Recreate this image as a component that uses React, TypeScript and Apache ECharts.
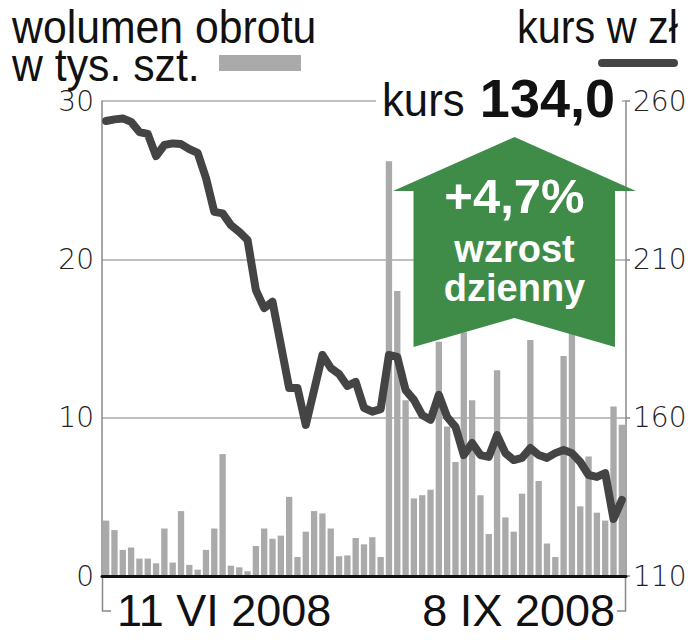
import React, { useEffect, useRef } from "react";
import * as echarts from "echarts";

const categories = [
  "11.06", "12.06", "13.06", "16.06", "17.06", "18.06", "19.06", "20.06", "23.06", "24.06",
  "25.06", "26.06", "27.06", "30.06", "01.07", "02.07", "03.07", "04.07", "07.07", "08.07",
  "09.07", "10.07", "11.07", "14.07", "15.07", "16.07", "17.07", "18.07", "21.07", "22.07",
  "23.07", "24.07", "25.07", "28.07", "29.07", "30.07", "31.07", "01.08", "04.08", "05.08",
  "06.08", "07.08", "08.08", "11.08", "12.08", "13.08", "14.08", "18.08", "19.08", "20.08",
  "21.08", "22.08", "25.08", "26.08", "27.08", "28.08", "29.08", "01.09", "02.09", "03.09",
  "04.09", "05.09", "08.09",
];

const volume = [
  3.5, 2.9, 1.65, 1.8, 1.1, 1.1, 0.8, 3.0, 0.85, 4.1,
  0.7, 0.4, 1.65, 3.0, 7.7, 0.65, 0.55, 0.3, 1.9, 3.0,
  2.35, 2.55, 5.0, 1.2, 2.8, 4.1, 3.95, 3.0, 1.25, 1.3,
  2.4, 2.0, 2.45, 1.2, 26.2, 18.0, 11.1, 4.9, 5.1, 5.45,
  14.8, 9.45, 7.2, 15.4, 11.1, 5.1, 2.65, 13.0, 3.7, 2.8,
  5.2, 14.9, 6.0, 2.05, 1.2, 13.9, 16.5, 4.4, 7.55, 4.0,
  3.5, 10.7, 9.55,
];

const price = [
  253.7, 254.2, 254.5, 253.4, 250.2, 249.6, 242.6, 246.1, 246.6, 246.4,
  244.8, 243.6, 235.7, 225.0, 224.5, 220.8, 218.7, 216.1, 200.3, 194.6,
  196.6, 183.0, 169.4, 169.4, 157.7, 168.7, 179.8, 175.7, 173.8, 170.0,
  171.3, 163.1, 161.9, 162.7, 179.8, 179.2, 168.7, 165.6, 160.8, 159.3,
  167.2, 160.2, 157.1, 148.2, 152.0, 148.2, 147.6, 154.5, 148.8, 146.6,
  147.3, 150.4, 148.2, 147.3, 148.8, 149.8, 148.8, 146.0, 141.9, 141.3,
  142.5, 128.0, 134.0,
];

const volumeAxis = { min: 0, max: 30, interval: 10 };
const priceAxis = { min: 110, max: 260, interval: 50 };

const titleLeft1 = "wolumen obrotu";
const titleLeft2 = "w tys. szt.";
const titleRight = "kurs w zł";
const lastLabel = "kurs";
const lastValue = "134,0";
const changeText = "+4,7%";
const changeWord1 = "wzrost";
const changeWord2 = "dzienny";
const startDate = "11 VI 2008";
const endDate = "8 IX 2008";

const SANS = "'Liberation Sans', Arial, sans-serif";
const TICK = "'DejaVu Sans', sans-serif";

export default function App() {
  const ref = useRef<HTMLDivElement>(null);

  useEffect(() => {
    if (!ref.current) return;
    const chart = echarts.init(ref.current, null, { renderer: "svg" });
    const green = "#3e8c48";
    chart.setOption({
      animation: false,
      backgroundColor: "#ffffff",
      grid: { left: 102, right: 64, top: 101, bottom: 64, containLabel: false },
      xAxis: {
        type: "category",
        data: categories,
        boundaryGap: true,
        axisLine: { show: true, lineStyle: { color: "#111", width: 3 } },
        axisTick: { show: false },
        axisLabel: { show: false },
        splitLine: { show: false },
        z: 5,
      },
      yAxis: [
        {
          type: "value",
          position: "left",
          min: volumeAxis.min,
          max: volumeAxis.max,
          interval: volumeAxis.interval,
          axisLine: { show: true, lineStyle: { color: "#888", width: 1.5 } },
          axisTick: { show: false },
          axisLabel: {
            margin: 8,
            fontFamily: TICK,
            fontSize: 28,
            fontWeight: 200,
            color: "#222",
          },
          splitLine: { show: true, lineStyle: { color: "#aaa", width: 1.5 } },
        },
        {
          type: "value",
          position: "right",
          min: priceAxis.min,
          max: priceAxis.max,
          interval: priceAxis.interval,
          axisLine: { show: true, lineStyle: { color: "#888", width: 1.5 } },
          axisTick: { show: true, length: 4, lineStyle: { color: "#888", width: 1.5 } },
          axisLabel: {
            margin: 7,
            fontFamily: TICK,
            fontSize: 28,
            fontWeight: 200,
            color: "#222",
          },
          splitLine: { show: false },
        },
      ],
      series: [
        {
          type: "bar",
          yAxisIndex: 0,
          data: volume,
          barCategoryGap: "24%",
          itemStyle: { color: "#aaaaaa" },
          z: 2,
        },
        {
          type: "line",
          yAxisIndex: 1,
          data: price,
          showSymbol: false,
          symbol: "none",
          lineStyle: { color: "#444444", width: 8, cap: "round", join: "round" },
          z: 3,
        },
      ],
      graphic: [
        {
          type: "text",
          x: 12,
          y: 27,
          z: 100,
          scaleX: 0.93,
          style: { text: titleLeft1, fontFamily: SANS, fontSize: 46, fill: "#111", textAlign: "left", textVerticalAlign: "middle" },
        },
        {
          type: "text",
          x: 12,
          y: 65,
          z: 100,
          scaleX: 0.93,
          style: { text: titleLeft2, fontFamily: SANS, fontSize: 46, fill: "#111", textAlign: "left", textVerticalAlign: "middle" },
        },
        {
          type: "text",
          x: 678,
          y: 27,
          z: 100,
          scaleX: 0.9,
          style: { text: titleRight, fontFamily: SANS, fontSize: 46, fill: "#111", textAlign: "right", textVerticalAlign: "middle" },
        },
        {
          type: "rect",
          z: 100,
          shape: { x: 219, y: 55, width: 82, height: 16 },
          style: { fill: "#aaaaaa" },
        },
        {
          type: "line",
          z: 100,
          shape: { x1: 602, y1: 63, x2: 674, y2: 63 },
          style: { stroke: "#444444", lineWidth: 8, lineCap: "round" },
        },
        {
          type: "rect",
          z: 100,
          shape: { x: 376, y: 94, width: 246, height: 14 },
          style: { fill: "#ffffff" },
        },
        {
          type: "text",
          x: 382,
          y: 100,
          z: 101,
          scaleX: 0.93,
          style: { text: lastLabel, fontFamily: SANS, fontSize: 47, fill: "#111", textAlign: "left", textVerticalAlign: "middle" },
        },
        {
          type: "text",
          x: 615,
          y: 98,
          z: 101,
          style: { text: lastValue, fontFamily: SANS, fontSize: 54, fontWeight: "bold", fill: "#111", textAlign: "right", textVerticalAlign: "middle" },
        },
        {
          type: "polygon",
          z: 100,
          shape: {
            points: [
              [514.5, 137],
              [636, 191],
              [615, 191],
              [615, 347],
              [514.5, 318],
              [413.5, 347],
              [413.5, 191],
              [393, 191],
            ],
          },
          style: { fill: green },
        },
        {
          type: "text",
          x: 514.5,
          y: 196,
          z: 101,
          style: { text: changeText, fontFamily: SANS, fontSize: 49, fontWeight: "bold", fill: "#fff", textAlign: "center", textVerticalAlign: "middle" },
        },
        {
          type: "text",
          x: 514.5,
          y: 249,
          z: 101,
          style: { text: changeWord1, fontFamily: SANS, fontSize: 38, fontWeight: "bold", fill: "#fff", textAlign: "center", textVerticalAlign: "middle" },
        },
        {
          type: "text",
          x: 514.5,
          y: 288,
          z: 101,
          style: { text: changeWord2, fontFamily: SANS, fontSize: 38, fontWeight: "bold", fill: "#fff", textAlign: "center", textVerticalAlign: "middle" },
        },
        {
          type: "polyline",
          z: 100,
          shape: { points: [[102.5, 578], [102.5, 611], [111, 611]] },
          style: { stroke: "#888", lineWidth: 1.5, fill: null },
        },
        {
          type: "polyline",
          z: 100,
          shape: { points: [[625.5, 578], [625.5, 611], [617, 611]] },
          style: { stroke: "#888", lineWidth: 1.5, fill: null },
        },
        {
          type: "text",
          x: 117,
          y: 610,
          z: 100,
          style: { text: startDate, fontFamily: SANS, fontSize: 45, fill: "#111", textAlign: "left", textVerticalAlign: "middle" },
        },
        {
          type: "text",
          x: 615,
          y: 610,
          z: 100,
          style: { text: endDate, fontFamily: SANS, fontSize: 45, fill: "#111", textAlign: "right", textVerticalAlign: "middle" },
        },
      ],
    });
    return () => chart.dispose();
  }, []);

  return (
    <div
      ref={ref}
      style={{ position: "absolute", left: 0, top: 0, width: 690, height: 640, background: "#fff" }}
    />
  );
}
